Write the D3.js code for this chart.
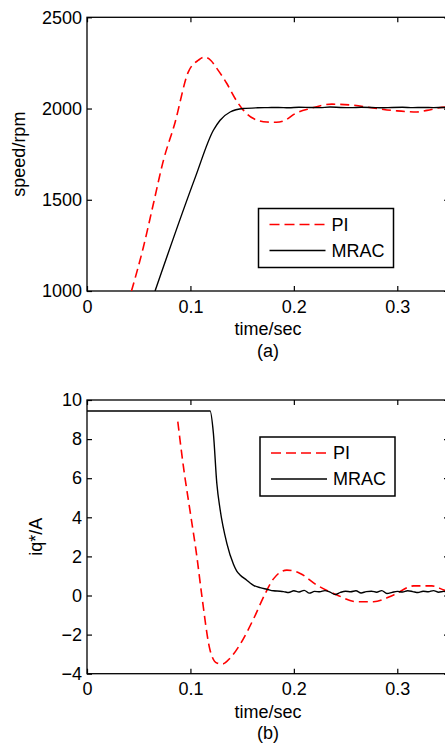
<!DOCTYPE html>
<html>
<head>
<meta charset="utf-8">
<style>
  body { margin: 0; background: #fff; }
  svg { display: block; font-family: 'Liberation Sans', Arial, sans-serif; }
  .lbl { font-size: 18px; fill: #000; }
</style>
</head>
<body>
<svg width="445" height="743"></svg>
<script src="https://d3js.org/d3.v7.min.js"></script>
<script>
// ---- data ----
var xTicks = [0, 0.1, 0.2, 0.3];

// (a) speed
var speedTicks = [1000, 1500, 2000, 2500];
var speedPI_t = [0.043, 0.0545, 0.0642, 0.0739, 0.0848, 0.098, 0.1077, 0.1135, 0.12, 0.1255, 0.1352, 0.1432, 0.1513, 0.161, 0.174, 0.183, 0.1916, 0.2013, 0.2158, 0.2368, 0.2577, 0.2803, 0.2997, 0.319, 0.3287, 0.3465, 0.36];
var speedPI_v = [1000, 1240, 1478, 1716, 1917, 2201, 2265, 2282, 2262, 2220, 2137, 2055, 1990, 1945, 1926, 1925, 1936, 1972, 2000, 2024, 2018, 2000, 1987, 1981, 1990, 2008, 2005];
var speedMRAC_t = [0.0658, 0.1045, 0.1222, 0.1287, 0.1384, 0.1513, 0.165, 0.175, 0.185, 0.195, 0.205, 0.215, 0.225, 0.235, 0.245, 0.255, 0.265, 0.275, 0.285, 0.295, 0.305, 0.315, 0.325, 0.335, 0.345, 0.36];
var speedMRAC_v = [1000, 1620, 1881, 1936, 1981, 2000, 2004, 2005, 2006, 2004, 2007, 2006, 2005, 2008, 2006, 2005, 2007, 2006, 2004, 2006, 2007, 2005, 2006, 2005, 2006, 2005];

// (b) iq*
var iqTicks = [-4, -2, 0, 2, 4, 6, 8, 10];
var iqPI_t = [0.0878, 0.0932, 0.0997, 0.1062, 0.111, 0.119, 0.1255, 0.131, 0.1384, 0.148, 0.161, 0.1723, 0.1803, 0.1932, 0.2061, 0.222, 0.2416, 0.261, 0.277, 0.2965, 0.3158, 0.3335, 0.345, 0.36];
var iqPI_v = [8.89, 6.6, 4.3, 2.0, 0, -2.8, -3.45, -3.5, -3.2, -2.5, -1.2, 0.1, 0.85, 1.30, 1.13, 0.54, 0.03, -0.32, -0.32, 0.03, 0.49, 0.49, 0.28, 0.0];
var iqMRAC_t = [0, 0.119, 0.1222, 0.1255, 0.1287, 0.1352, 0.1416, 0.1448, 0.148, 0.1545, 0.1577, 0.161, 0.1674, 0.1739, 0.1803, 0.1868,
  0.19, 0.195, 0.2, 0.205, 0.21, 0.215, 0.22, 0.225, 0.23, 0.235, 0.24, 0.245, 0.25, 0.255, 0.26, 0.265, 0.27, 0.275,
  0.28, 0.285, 0.29, 0.295, 0.3, 0.305, 0.31, 0.315, 0.32, 0.325, 0.33, 0.335, 0.34, 0.345, 0.35, 0.355, 0.36];
var iqMRAC_v = [9.44, 9.44, 8.30, 5.74, 4.4, 2.67, 1.6, 1.25, 1.05, 0.78, 0.64, 0.52, 0.40, 0.32, 0.24, 0.22,
  0.20, 0.15, 0.24, 0.18, 0.26, 0.12, 0.21, 0.19, 0.25, 0.17, 0.05, 0.16, 0.22, 0.19, 0.24, 0.13, 0.20, 0.22,
  0.17, 0.25, 0.10, 0.16, 0.21, 0.18, 0.24, 0.20, 0.15, 0.22, 0.19, 0.25, 0.17, 0.21, 0.18, 0.23, 0.19];

var svg = d3.select("svg");

function zip(t, v) { return t.map(function(d, i) { return [d, v[i]]; }); }

function panel(opt) {
  var left = 87, right = 449;
  var x = d3.scaleLinear().domain([0, 0.35]).range([left, right]);
  var y = d3.scaleLinear().domain(opt.yDomain).range([opt.bottom, opt.top]);
  var g = svg.append("g");

  g.append("clipPath").attr("id", opt.id)
    .append("rect").attr("x", left).attr("y", opt.top)
    .attr("width", right - left).attr("height", opt.bottom - opt.top);

  // ticks + labels
  g.append("g").attr("transform", "translate(0," + opt.bottom + ")")
    .call(d3.axisBottom(x).tickValues(xTicks).tickSizeInner(-5).tickSizeOuter(0).tickPadding(9)
      .tickFormat(function(d) { return d === 0 ? "0" : d3.format(".1f")(d); }));
  g.append("g").attr("transform", "translate(0," + opt.top + ")")
    .call(d3.axisTop(x).tickValues(xTicks).tickSizeInner(-5).tickSizeOuter(0).tickFormat(""));
  g.append("g").attr("transform", "translate(" + left + ",0)")
    .call(d3.axisLeft(y).tickValues(opt.yTicks).tickSizeInner(-5).tickSizeOuter(0).tickPadding(5)
      .tickFormat(function(d) { return d < 0 ? "\u2212" + Math.abs(d) : d; }));
  g.append("g").attr("transform", "translate(" + right + ",0)")
    .call(d3.axisRight(y).tickValues(opt.yTicks).tickSizeInner(-5).tickSizeOuter(0).tickFormat(""));
  g.selectAll(".domain").remove();
  g.selectAll(".tick line").attr("stroke", "#000").attr("stroke-width", 1.2);
  g.selectAll(".tick text").attr("font-family", "'Liberation Sans', Arial, sans-serif")
    .attr("font-size", 18).attr("fill", "#000");

  g.append("rect").attr("x", left).attr("y", opt.top)
    .attr("width", right - left).attr("height", opt.bottom - opt.top)
    .attr("fill", "none").attr("stroke", "#000").attr("stroke-width", 1.3);

  var smooth = d3.line().curve(d3.curveMonotoneX).x(function(d) { return x(d[0]); }).y(function(d) { return y(d[1]); });

  g.append("path").datum(zip(opt.piT, opt.piV)).attr("clip-path", "url(#" + opt.id + ")")
    .attr("d", smooth).attr("fill", "none").attr("stroke", "#ff0000")
    .attr("stroke-width", 1.6).attr("stroke-dasharray", "9,5");
  g.append("path").datum(zip(opt.mrT, opt.mrV)).attr("clip-path", "url(#" + opt.id + ")")
    .attr("d", smooth).attr("fill", "none").attr("stroke", "#000")
    .attr("stroke-width", 1.4).attr("stroke-linejoin", "round");

  // labels
  g.append("text").attr("class", "lbl").attr("x", 268).attr("y", opt.xLabelY)
    .attr("text-anchor", "middle").text("time/sec");
  g.append("text").attr("class", "lbl").attr("x", 268).attr("y", opt.capY)
    .attr("text-anchor", "middle").text(opt.caption);
  g.append("text").attr("class", "lbl")
    .attr("transform", "translate(" + opt.yLabelX + "," + ((opt.top + opt.bottom) / 2) + ") rotate(-90)")
    .attr("text-anchor", "middle").text(opt.yLabel);

  // legend
  var lg = g.append("g").attr("transform", "translate(" + opt.legX + "," + opt.legY + ")");
  lg.append("rect").attr("width", 135).attr("height", 59)
    .attr("fill", "#fff").attr("stroke", "#000").attr("stroke-width", 1.5);
  lg.append("line").attr("x1", 11).attr("x2", 67).attr("y1", 16).attr("y2", 16)
    .attr("stroke", "#ff0000").attr("stroke-width", 1.6).attr("stroke-dasharray", "10,5");
  lg.append("line").attr("x1", 11).attr("x2", 67).attr("y1", 42).attr("y2", 42)
    .attr("stroke", "#000").attr("stroke-width", 1.5);
  lg.append("text").attr("class", "lbl").attr("x", 73).attr("y", 22).text("PI");
  lg.append("text").attr("class", "lbl").attr("x", 73).attr("y", 48).text("MRAC");
}

panel({
  id: "clipA", top: 17.3, bottom: 291, yDomain: [1000, 2500], yTicks: speedTicks,
  piT: speedPI_t, piV: speedPI_v, mrT: speedMRAC_t, mrV: speedMRAC_v,
  xLabelY: 334.5, capY: 356.5, caption: "(a)", yLabel: "speed/rpm", yLabelX: 25,
  legX: 258.5, legY: 208.5
});

panel({
  id: "clipB", top: 400, bottom: 673.7, yDomain: [-4, 10], yTicks: iqTicks,
  piT: iqPI_t, piV: iqPI_v, mrT: iqMRAC_t, mrV: iqMRAC_v,
  xLabelY: 717.5, capY: 739, caption: "(b)", yLabel: "iq*/A", yLabelX: 42,
  legX: 260, legY: 437
});
</script>
</body>
</html>
